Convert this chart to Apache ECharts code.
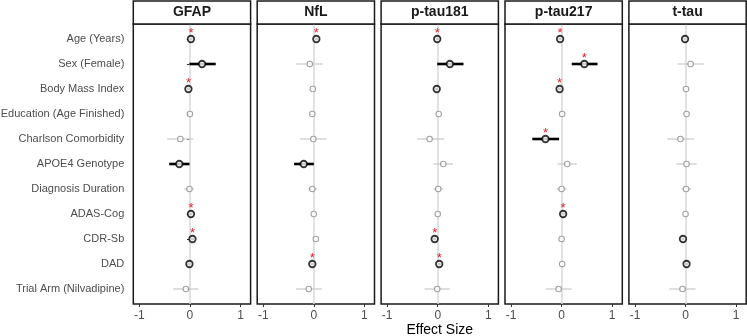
<!DOCTYPE html>
<html>
<head>
<meta charset="utf-8">
<script src="https://cdn.jsdelivr.net/npm/echarts@6/dist/echarts.min.js"></script>
<style>html,body{margin:0;padding:0;background:#fff}#main{width:747px;height:336px}</style>
</head>
<body>
<div id="main"></div>
<script>
// rows (top to bottom) and facet names
var rows = ['Age (Years)', 'Sex (Female)', 'Body Mass Index', 'Education (Age Finished)',
  'Charlson Comorbidity', 'APOE4 Genotype', 'Diagnosis Duration', 'ADAS-Cog', 'CDR-Sb', 'DAD',
  'Trial Arm (Nilvadipine)'];
var panels = ['GFAP', 'NfL', 'p-tau181', 'p-tau217', 't-tau'];
var xTicks = [-1, 0, 1];

// estimates, CI bounds, significance (black) and star flags per panel
var gfapEst = [0.02, 0.24, -0.03, 0.00, -0.19, -0.21, -0.01, 0.02, 0.05, -0.01, -0.08];
var gfapLo  = [-0.01, -0.01, -0.06, -0.03, -0.45, -0.41, -0.11, -0.01, 0.02, -0.04, -0.33];
var gfapHi  = [0.05, 0.51, 0.00, 0.03, 0.07, -0.01, 0.08, 0.05, 0.08, 0.02, 0.17];
var gfapSig = [1, 1, 1, 0, 0, 1, 0, 1, 1, 1, 0];
var gfapStar = [1, 0, 1, 0, 0, 0, 0, 1, 1, 0, 0];

var nflEst = [0.05, -0.08, -0.02, -0.03, -0.01, -0.20, -0.03, 0.00, 0.04, -0.03, -0.10];
var nflLo  = [0.02, -0.35, -0.05, -0.06, -0.27, -0.39, -0.11, -0.03, 0.01, -0.06, -0.35];
var nflHi  = [0.08, 0.18, 0.01, 0.00, 0.25, 0.00, 0.07, 0.03, 0.07, 0.00, 0.16];
var nflSig = [1, 0, 0, 0, 0, 1, 0, 0, 0, 1, 0];
var nflStar = [1, 0, 0, 0, 0, 0, 0, 0, 0, 1, 0];

var pt181Est = [-0.01, 0.24, -0.02, 0.02, -0.16, 0.11, 0.01, 0.00, -0.06, 0.03, -0.01];
var pt181Lo  = [-0.04, -0.01, -0.05, -0.01, -0.41, -0.09, -0.09, -0.03, -0.09, 0.00, -0.26];
var pt181Hi  = [0.02, 0.51, 0.01, 0.05, 0.13, 0.30, 0.11, 0.03, -0.03, 0.06, 0.24];
var pt181Sig = [1, 1, 1, 0, 0, 0, 0, 0, 1, 1, 0];
var pt181Star = [1, 0, 0, 0, 0, 0, 0, 0, 1, 1, 0];

var pt217Est = [-0.03, 0.45, -0.04, 0.01, -0.32, 0.11, 0.00, 0.03, 0.00, 0.01, -0.06];
var pt217Lo  = [-0.06, 0.20, -0.07, -0.02, -0.58, -0.08, -0.10, 0.00, -0.03, -0.02, -0.31];
var pt217Hi  = [0.00, 0.71, -0.01, 0.04, -0.05, 0.30, 0.10, 0.06, 0.03, 0.04, 0.20];
var pt217Sig = [1, 1, 1, 0, 1, 0, 0, 1, 0, 0, 0];
var pt217Star = [1, 1, 1, 0, 1, 0, 0, 1, 0, 0, 0];

var ttauEst = [-0.01, 0.10, 0.01, 0.02, -0.10, 0.02, 0.01, 0.00, -0.05, 0.02, -0.06];
var ttauLo  = [-0.04, -0.16, -0.02, -0.01, -0.36, -0.18, -0.08, -0.03, -0.08, -0.01, -0.32];
var ttauHi  = [0.02, 0.36, 0.04, 0.05, 0.17, 0.22, 0.11, 0.03, -0.02, 0.05, 0.20];
var ttauSig = [1, 0, 0, 0, 0, 0, 0, 0, 1, 1, 0];
var ttauStar = [0, 0, 0, 0, 0, 0, 0, 0, 0, 0, 0];

var est = [gfapEst, nflEst, pt181Est, pt217Est, ttauEst];
var lo = [gfapLo, nflLo, pt181Lo, pt217Lo, ttauLo];
var hi = [gfapHi, nflHi, pt181Hi, pt217Hi, ttauHi];
var sig = [gfapSig, nflSig, pt181Sig, pt217Sig, ttauSig];
var star = [gfapStar, nflStar, pt181Star, pt217Star, ttauStar];

var myChart = echarts.init(document.getElementById('main'));

var FONT = 'Liberation Sans';
var panelLeft = 133.3, panelStep = 123.9, panelW = 117.3, panelTop = 24, panelH = 280;
var rowTicks = rows.map(function (r, i) { return i + 1; });

var grids = [], xAxes = [], yAxes = [], series = [], graphics = [];

panels.forEach(function (name, p) {
  var left = panelLeft + p * panelStep;
  grids.push({
    left: left, top: panelTop, width: panelW, height: panelH,
    outerBoundsMode: 'none',
    show: true, borderColor: '#1a1a1a', borderWidth: 1.5, backgroundColor: '#fff'
  });
  xAxes.push({
    type: 'value', gridIndex: p, min: -1.12, max: 1.2,
    axisLine: { show: false },
    splitLine: { show: false },
    axisTick: { show: true, length: 3, customValues: xTicks, lineStyle: { color: '#333', width: 1 } },
    axisLabel: { customValues: xTicks, margin: 6, color: '#4d4d4d', fontSize: 12, fontFamily: FONT }
  });
  yAxes.push({
    type: 'value', gridIndex: p, min: 0.4, max: 11.6, inverse: true,
    axisLine: { show: false },
    splitLine: { show: false },
    axisTick: { show: p === 0, length: 3, customValues: rowTicks, lineStyle: { color: '#333' } },
    axisLabel: {
      show: p === 0, customValues: rowTicks, margin: 9,
      color: '#4d4d4d', fontSize: 11, fontFamily: FONT,
      formatter: function (v) { return rows[Math.round(v) - 1]; }
    }
  });

  // strip header
  graphics.push({
    type: 'rect', shape: { x: left, y: 1, width: panelW, height: panelTop - 1 },
    style: { fill: '#fff', stroke: '#1a1a1a', lineWidth: 1.5 }, z: 10
  });
  graphics.push({
    type: 'text', x: left + panelW / 2, y: 1 + (panelTop - 1) / 2,
    style: { text: name, fill: '#1a1a1a', font: 'bold 14px "Liberation Sans"', align: 'center', verticalAlign: 'middle' },
    z: 11
  });

  var ciData = [], ptData = [], starData = [];
  for (var i = 0; i < rows.length; i++) {
    ciData.push([lo[p][i], hi[p][i], i + 1, sig[p][i]]);
    ptData.push({
      value: [est[p][i], i + 1],
      symbolSize: sig[p][i] ? 6.5 : 5.5,
      itemStyle: sig[p][i]
        ? { color: '#fff', borderColor: '#000', borderWidth: 1.8 }
        : { color: '#fff', borderColor: '#8c8c8c', borderWidth: 1.1 }
    });
    if (star[p][i]) starData.push([est[p][i], i + 1]);
  }

  // zero reference line + CI bars
  series.push({
    type: 'custom', xAxisIndex: p, yAxisIndex: p, z: 2,
    data: ciData,
    renderItem: function (params, api) {
      var a = api.coord([api.value(0), api.value(2)]);
      var b = api.coord([api.value(1), api.value(2)]);
      var s = api.value(3);
      return {
        type: 'line', shape: { x1: a[0], y1: a[1], x2: b[0], y2: b[1] },
        style: { stroke: s ? '#000' : '#c9c9c9', lineWidth: s ? 2.6 : 1.2 }
      };
    },
    markLine: {
      silent: true, symbol: 'none', z: 1, label: { show: false },
      lineStyle: { color: '#d9d9d9', width: 1.5, type: 'solid' },
      data: [{ xAxis: 0 }]
    }
  });
  series.push({
    type: 'scatter', xAxisIndex: p, yAxisIndex: p, z: 3,
    symbol: 'circle', data: ptData, silent: true
  });
  series.push({
    type: 'custom', xAxisIndex: p, yAxisIndex: p, z: 4,
    data: starData,
    renderItem: function (params, api) {
      var c = api.coord([api.value(0), api.value(1)]);
      return {
        type: 'text', x: c[0], y: c[1] - 5.5,
        style: { text: '*', fill: '#e0202a', font: '13px "Liberation Sans"', align: 'center', verticalAlign: 'middle' }
      };
    }
  });
});

graphics.push({
  type: 'text', x: panelLeft + 2 * panelStep + panelW / 2, y: 330,
  style: { text: 'Effect Size', fill: '#000', font: '14px "Liberation Sans"', align: 'center', verticalAlign: 'middle' }
});

var option = {
  animation: false,
  grid: grids,
  xAxis: xAxes,
  yAxis: yAxes,
  series: series,
  graphic: graphics
};
myChart.setOption(option);
</script>
</body>
</html>
